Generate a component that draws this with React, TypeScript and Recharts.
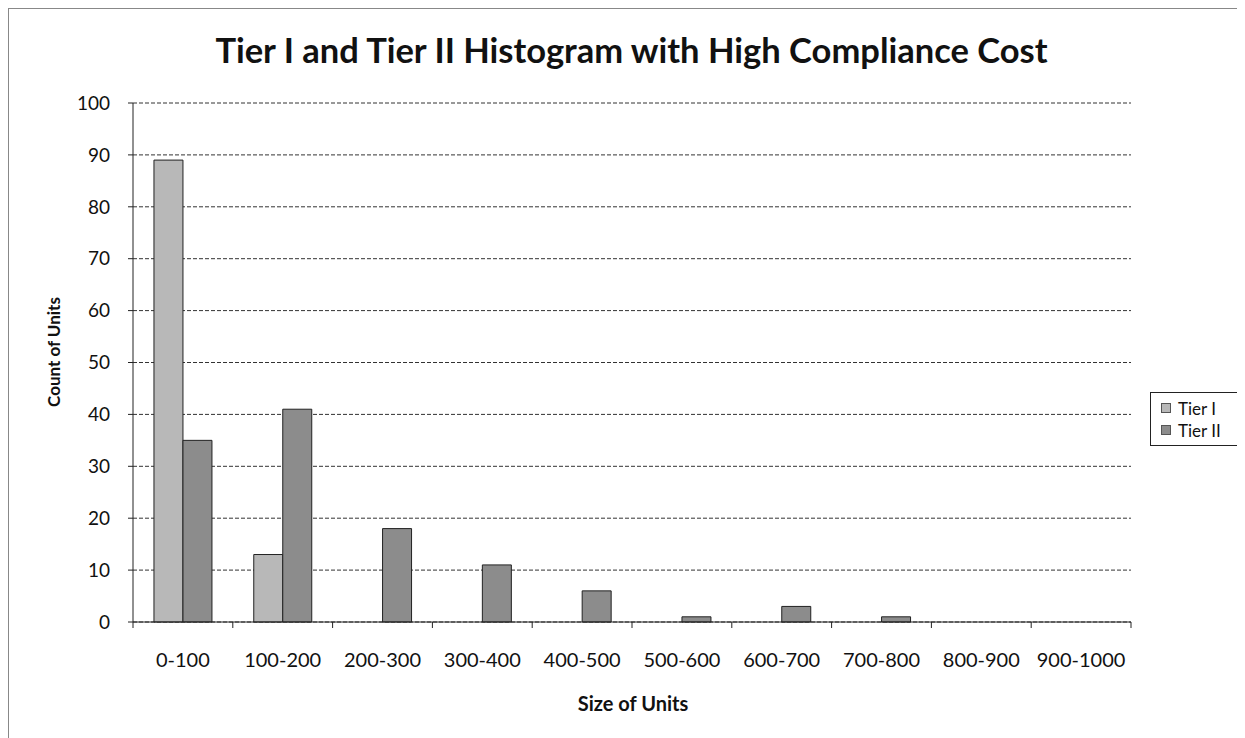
import React from 'react';
import { BarChart, Bar, XAxis, YAxis, CartesianGrid } from 'recharts';

const CATEGORIES = ['0-100', '100-200', '200-300', '300-400', '400-500', '500-600', '600-700', '700-800', '800-900', '900-1000'];
const TIER_1 = [89, 13, 0, 0, 0, 0, 0, 0, 0, 0];
const TIER_2 = [35, 41, 18, 11, 6, 1, 3, 1, 0, 0];
const Y_TICKS = [0, 10, 20, 30, 40, 50, 60, 70, 80, 90, 100];

const data = CATEGORIES.map((name, i) => ({ name, tier1: TIER_1[i], tier2: TIER_2[i] }));

const FONT = 'Lato, "Open Sans", sans-serif';
const W = 1237;
const H = 730;
const PLOT_LEFT = 124;
const PLOT_RIGHT = 1122;
const BAND = (PLOT_RIGHT - PLOT_LEFT) / CATEGORIES.length;

const SERIES = [
  { key: 'tier1', label: 'Tier I', color: '#b8b8b8' },
  { key: 'tier2', label: 'Tier II', color: '#8c8c8c' },
];

const XTick = (props: any) => {
  const { x, y, payload, index } = props;
  const left = x - BAND / 2;
  return (
    <g>
      <line x1={left} x2={left} y1={y} y2={y + 6} stroke="#222" />
      {index === CATEGORIES.length - 1 && (
        <line x1={x + BAND / 2} x2={x + BAND / 2} y1={y} y2={y + 6} stroke="#222" />
      )}
      <text x={x} y={y + 45} textAnchor="middle" fontSize={20} fill="#111" fontFamily={FONT}>
        {payload.value}
      </text>
    </g>
  );
};

// legend drawn outside the chart so it doesn't shrink the plot
const LegendBox = () => (
  <div
    style={{
      position: 'absolute',
      left: 1141,
      top: 383,
      width: 88,
      height: 54,
      border: '1px solid #222',
      background: '#fff',
      fontSize: 17,
      color: '#111',
      boxSizing: 'border-box',
      paddingTop: 4,
      paddingLeft: 10,
    }}
  >
    {SERIES.map((e) => (
      <div key={e.key} style={{ display: 'flex', alignItems: 'center', height: 22 }}>
        <span style={{ width: 8, height: 8, background: e.color, border: '1px solid #555', marginRight: 7 }} />
        <span>{e.label}</span>
      </div>
    ))}
  </div>
);

export default function App() {
  return (
    <div
      style={{
        position: 'relative',
        width: W,
        height: H,
        borderLeft: '1px solid #888',
        borderTop: '1px solid #888',
        background: '#fff',
        fontFamily: FONT,
      }}
    >
      <div
        style={{
          position: 'absolute',
          top: 20,
          left: 0,
          width: 1245,
          textAlign: 'center',
          fontSize: 34.5,
          fontWeight: 700,
          color: '#111',
        }}
      >
        Tier I and Tier II Histogram with High Compliance Cost
      </div>
      <div
        style={{
          position: 'absolute',
          left: 44,
          top: 343,
          transform: 'translate(-50%, -50%) rotate(-90deg)',
          fontSize: 17,
          fontWeight: 700,
          color: '#111',
          whiteSpace: 'nowrap',
        }}
      >
        Count of Units
      </div>
      <div
        style={{
          position: 'absolute',
          left: 624,
          top: 694,
          transform: 'translate(-50%, -50%)',
          fontSize: 20,
          fontWeight: 700,
          color: '#111',
          whiteSpace: 'nowrap',
        }}
      >
        Size of Units
      </div>
      <BarChart
        width={W}
        height={H}
        data={data}
        margin={{ top: 94, right: W - PLOT_RIGHT, left: 0, bottom: 77 }}
        barCategoryGap="21%"
        barGap={0}
      >
        <CartesianGrid horizontal vertical={false} stroke="#333" strokeDasharray="4 2" />
        <XAxis
          dataKey="name"
          height={40}
          axisLine={{ stroke: '#222' }}
          tickLine={false}
          tickSize={0}
          tickMargin={0}
          interval={0}
          tick={<XTick />}
        />
        <YAxis
          width={PLOT_LEFT}
          domain={[0, 100]}
          ticks={Y_TICKS}
          interval={0}
          axisLine={{ stroke: '#222' }}
          tickLine={{ stroke: '#222' }}
          tickSize={5}
          tickMargin={18}
          tick={{ fontSize: 19, fill: '#111', fontFamily: FONT }}
        />
        {SERIES.map((s) => (
          <Bar
            key={s.key}
            dataKey={s.key}
            name={s.label}
            fill={s.color}
            stroke="#222"
            strokeWidth={1}
            isAnimationActive={false}
          />
        ))}
      </BarChart>
      <LegendBox />
    </div>
  );
}
